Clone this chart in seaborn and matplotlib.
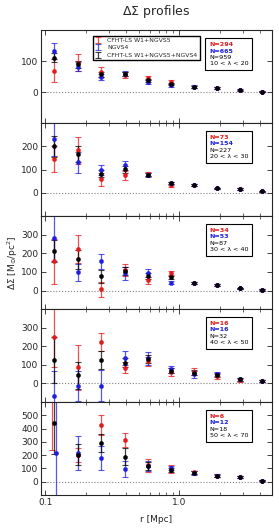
import numpy as np
import matplotlib
matplotlib.use('Agg')
import matplotlib.pyplot as plt
import seaborn as sns
from matplotlib.offsetbox import TextArea, VPacker, AnchoredOffsetbox
from matplotlib.ticker import FixedLocator, FuncFormatter

# radial bins [Mpc]
r = [0.116, 0.174, 0.26, 0.39, 0.58, 0.87, 1.29, 1.91, 2.84, 4.1]

# richness bins and numbers of clusters
lam_bins = ['10 < λ < 20', '20 < λ < 30', '30 < λ < 40', '40 < λ < 50', '50 < λ < 70']
n_red = [294, 73, 34, 16, 6]
n_blue = [665, 154, 53, 16, 12]
n_black = [959, 227, 87, 32, 18]

# y ranges of the panels
ymin = [-100, -100, -100, -100, -100]
ymax = [200, 300, 400, 400, 600]

# CFHT-LS W1+NGVS5
red_ds = [
    [69, 95, 65, 55, 45, 32, 17, 13, 6, 2],
    [145, 184, 59, 75, 80, 33, 33, 19, 16, 6],
    [156, 224, 7, 110, 54, 93, 41, 30, 11, 4],
    [251, 86, 221, 84, 120, 62, 64, 38, 16, 13],
    [650, 200, 425, 312, 125, 95, 72, 46, 36, 8],
]
red_err = [
    [37, 28, 15, 9, 7, 6, 4, 3, 3, 2],
    [57, 58, 28, 20, 8, 6, 5, 4, 4, 3],
    [120, 75, 40, 30, 20, 12, 7, 6, 5, 4],
    [160, 120, 48, 30, 25, 20, 18, 12, 9, 7],
    [410, 55, 75, 52, 48, 30, 12, 10, 8, 6],
]
# NGVS4
blue_ds = [
    [134, 82, 50, 60, 33, 22, 18, 13, 6, 2],
    [233, 131, 99, 118, 76, 42, 33, 19, 16, 6],
    [285, 97, 156, 93, 93, 43, 41, 30, 11, 4],
    [-69, -14, -11, 138, 135, 76, 49, 51, 22, 13],
    [213, 215, 178, 95, 118, 105, 66, 46, 36, 8],
]
blue_err = [
    [26, 15, 10, 8, 6, 5, 4, 3, 3, 2],
    [75, 45, 22, 20, 8, 6, 5, 4, 4, 3],
    [125, 45, 40, 35, 22, 8, 7, 6, 5, 4],
    [136, 80, 85, 38, 35, 20, 18, 12, 9, 7],
    [420, 130, 88, 60, 35, 15, 12, 10, 8, 6],
]
# CFHT-LS W1+NGVS5+NGVS4
black_ds = [
    [111, 90, 58, 58, 38, 27, 18, 13, 6, 2],
    [200, 167, 82, 102, 78, 42, 33, 19, 16, 6],
    [214, 167, 77, 105, 77, 70, 41, 30, 11, 4],
    [125, 43, 127, 111, 130, 69, 58, 45, 22, 13],
    [446, 203, 292, 188, 120, 92, 69, 46, 36, 8],
]
black_err = [
    [14, 12, 8, 7, 5, 4, 3, 3, 2, 2],
    [45, 33, 15, 15, 7, 5, 4, 3, 3, 2],
    [60, 50, 35, 22, 15, 10, 6, 5, 4, 3],
    [125, 75, 48, 25, 22, 15, 12, 10, 7, 5],
    [240, 80, 70, 65, 30, 15, 10, 8, 6, 5],
]
# small horizontal shift of the first bin in the last panel
shift_red5 = [0.972, 1, 1, 1, 1, 1, 1, 1, 1, 1]
shift_blue5 = [1.04, 1, 1, 1, 1, 1, 1, 1, 1, 1]

RED = '#e41a1c'
BLUE = '#1f1fdd'
BLACK = 'black'

sns.set_style('ticks')
plt.rcParams['font.family'] = ['DejaVu Sans']
plt.rcParams['xtick.direction'] = 'in'
plt.rcParams['ytick.direction'] = 'in'
plt.rcParams['axes.linewidth'] = 0.8

fig, axes = plt.subplots(5, 1, figsize=(2.79, 5.30), dpi=100, sharex=True)
fig.subplots_adjust(left=0.147, right=0.975, top=0.943, bottom=0.066, hspace=0)

series = [
    ('CFHT-LS W1+NGVS5', RED, red_ds, red_err, n_red),
    ('NGVS4', BLUE, blue_ds, blue_err, n_blue),
    ('CFHT-LS W1+NGVS5+NGVS4', BLACK, black_ds, black_err, n_black),
]

r = np.array(r)
for i, ax in enumerate(axes):
    handles = []
    for label, col, ds, err, n in series:
        x = r
        if i == 4 and col == RED:
            x = r * np.array(shift_red5)
        if i == 4 and col == BLUE:
            x = r * np.array(shift_blue5)
        h = ax.errorbar(x, ds[i], yerr=err[i], fmt='none', ecolor=col,
                        elinewidth=0.9, capsize=2.2, capthick=0.8, alpha=0.75,
                        label=label)
        sns.scatterplot(x=x, y=ds[i], color=col, s=9, edgecolor=col,
                        linewidth=0.3, ax=ax, zorder=3, legend=False)
        handles.append(h)
    ax.axhline(0, color='gray', ls=':', lw=0.8, zorder=0)
    ax.set_xscale('log')
    ax.set_xlim(0.093, 4.9)
    ax.set_ylim(ymin[i], ymax[i])
    ax.yaxis.set_major_locator(FixedLocator(list(range(0, ymax[i], 100))))
    ax.tick_params(which='both', top=True, right=True, labelsize=6.5, pad=2)
    ax.tick_params(which='major', length=3.5, width=0.6)
    ax.tick_params(which='minor', length=2, width=0.5)

    # number box
    fs = 4.6
    lines = [TextArea('N=%d' % n_red[i], textprops=dict(color=RED, fontsize=fs, weight='bold')),
             TextArea('N=%d' % n_blue[i], textprops=dict(color=BLUE, fontsize=fs, weight='bold')),
             TextArea('N=%d' % n_black[i], textprops=dict(color=BLACK, fontsize=fs)),
             TextArea(lam_bins[i], textprops=dict(color=BLACK, fontsize=fs))]
    box = VPacker(children=lines, align='left', pad=0, sep=0.9)
    anchored = AnchoredOffsetbox(loc='upper right', child=box, pad=0.3, borderpad=0,
                                 frameon=True, bbox_to_anchor=(0.915, 0.915),
                                 bbox_transform=ax.transAxes)
    anchored.patch.set_linewidth(0.8)
    ax.add_artist(anchored)

    if i == 0:
        ax.legend(handles=handles, loc='upper center', bbox_to_anchor=(0.456, 0.975),
                  fontsize=4.4, frameon=True, fancybox=False, edgecolor='black',
                  handlelength=1.0, handletextpad=1.0, borderpad=0.35,
                  labelspacing=0.35, framealpha=1)

axes[-1].xaxis.set_major_formatter(FuncFormatter(lambda v, p: '%.1f' % v))
axes[-1].set_xlabel('r [Mpc]', fontsize=6.5, labelpad=6)
axes[2].set_ylabel(r'$\Delta\Sigma$ [M$_{\odot}$/pc$^2$]', fontsize=6.5, labelpad=1)
axes[0].set_title(r'$\Delta\Sigma$ profiles', fontsize=9, pad=11)

fig.savefig('out.png', dpi=100)
